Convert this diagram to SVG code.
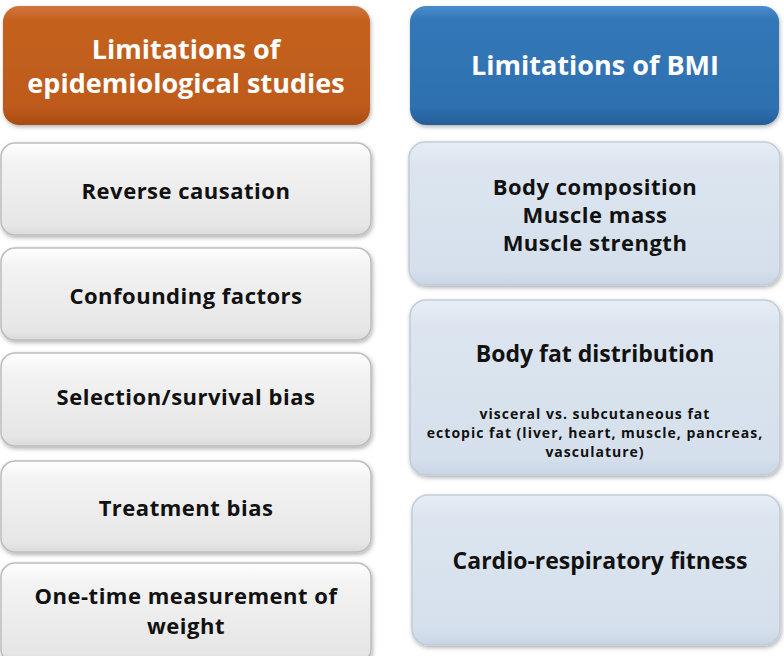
<svg xmlns="http://www.w3.org/2000/svg" width="784" height="656" viewBox="0 0 784 656">
<defs>
<linearGradient id="gOrange" x1="0" y1="0" x2="0" y2="1">
<stop offset="0" stop-color="#D0753F"/>
<stop offset="0.12" stop-color="#C4621F"/>
<stop offset="0.85" stop-color="#BE5A1C"/>
<stop offset="1" stop-color="#A94C14"/>
</linearGradient>
<linearGradient id="gBlue" x1="0" y1="0" x2="0" y2="1">
<stop offset="0" stop-color="#4A8CCB"/>
<stop offset="0.12" stop-color="#3277B8"/>
<stop offset="0.85" stop-color="#2E70B0"/>
<stop offset="1" stop-color="#245E99"/>
</linearGradient>
<linearGradient id="gGray" x1="0" y1="0" x2="0" y2="1">
<stop offset="0" stop-color="#FFFFFF"/>
<stop offset="0.2" stop-color="#F3F3F3"/>
<stop offset="0.9" stop-color="#E6E6E6"/>
<stop offset="1" stop-color="#DADADA"/>
</linearGradient>
<linearGradient id="gLight" x1="0" y1="0" x2="0" y2="1">
<stop offset="0" stop-color="#E6EDF5"/>
<stop offset="0.15" stop-color="#DCE5EF"/>
<stop offset="0.9" stop-color="#D5E0EC"/>
<stop offset="1" stop-color="#C8D5E4"/>
</linearGradient>
<filter id="sh" x="-5%" y="-10%" width="110%" height="125%">
<feDropShadow dx="1" dy="2" stdDeviation="2" flood-color="#000" flood-opacity="0.3"/>
</filter>
</defs>
<style>
.t{font-family:"Open Sans","Noto Sans","DejaVu Sans",sans-serif;font-weight:bold;text-anchor:middle;}
.hd{fill:#FFFFFF;font-size:27px;}
.bx{fill:#111111;font-size:22px;letter-spacing:0.5px;}
.sm{fill:#111111;font-size:14px;letter-spacing:1px;}
.big{fill:#111111;font-size:23px;}
.gray{fill:url(#gGray);stroke:#BDBDBD;stroke-width:1.5;filter:url(#sh);}
.lb{fill:url(#gLight);stroke:#C2CCD8;stroke-width:1.5;filter:url(#sh);}
</style>
<rect width="784" height="656" fill="#FFFFFF"/>
<g id="header-left">
<rect x="3" y="6" width="367" height="119" rx="16" fill="url(#gOrange)" filter="url(#sh)"/>
<text class="t hd" x="186" y="59">Limitations of</text>
<text class="t hd" x="186" y="93">epidemiological studies</text>
</g>
<g id="header-right">
<rect x="410" y="6" width="369" height="119" rx="16" fill="url(#gBlue)" filter="url(#sh)"/>
<text class="t hd" x="595" y="75">Limitations of BMI</text>
</g>
<g id="reverse-causation">
<rect class="gray" x="1" y="143" width="370" height="92" rx="14"/>
<text class="t bx" x="186" y="199">Reverse causation</text>
</g>
<g id="confounding-factors">
<rect class="gray" x="1" y="248" width="370" height="92" rx="14"/>
<text class="t bx" x="186" y="304">Confounding factors</text>
</g>
<g id="selection-bias">
<rect class="gray" x="1" y="353" width="370" height="93" rx="14"/>
<text class="t bx" x="186" y="405">Selection/survival bias</text>
</g>
<g id="treatment-bias">
<rect class="gray" x="1" y="461" width="370" height="91" rx="14"/>
<text class="t bx" x="186" y="516">Treatment bias</text>
</g>
<g id="one-time-measurement">
<rect class="gray" x="1" y="563" width="370" height="100" rx="14"/>
<text class="t bx" x="186" y="604">One-time measurement of</text>
<text class="t bx" x="186" y="634">weight</text>
</g>
<g id="body-composition">
<rect class="lb" x="409" y="142" width="371" height="143" rx="16"/>
<text class="t bx" x="595" y="195">Body composition</text>
<text class="t bx" x="595" y="223">Muscle mass</text>
<text class="t bx" x="595" y="251">Muscle strength</text>
</g>
<g id="body-fat-distribution">
<rect class="lb" x="410" y="300" width="370" height="175" rx="16"/>
<text class="t big" x="595" y="362">Body fat distribution</text>
<text class="t sm" x="595" y="419">visceral vs. subcutaneous fat</text>
<text class="t sm" x="595" y="438">ectopic fat (liver, heart, muscle, pancreas,</text>
<text class="t sm" x="595" y="457">vasculature)</text>
</g>
<g id="cardio-fitness">
<rect class="lb" x="412" y="495" width="368" height="150" rx="16"/>
<text class="t big" x="600" y="569">Cardio-respiratory fitness</text>
</g>
<g id="connectors"></g>
</svg>
